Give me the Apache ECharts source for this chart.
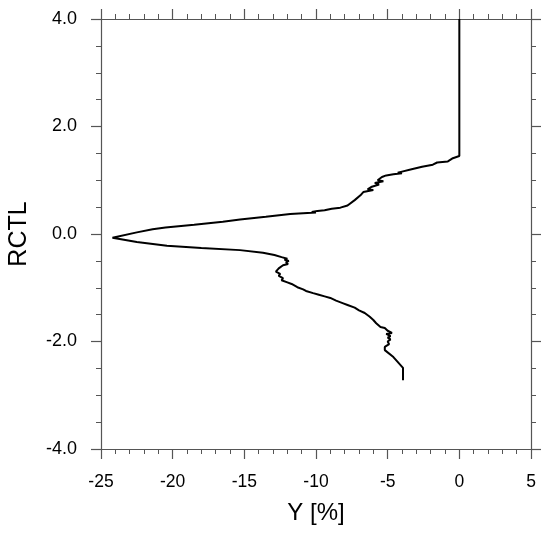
<!DOCTYPE html>
<html>
<head>
<meta charset="utf-8">
<script src="https://cdn.jsdelivr.net/npm/echarts@6/dist/echarts.min.js"></script>
<style>html,body{margin:0;padding:0;background:#fff}#c{width:550px;height:534px}</style>
</head>
<body>
<div id="c"></div>
<script>
// Y [%] values (x) and RCTL values (y), ordered from top to bottom of the profile
const yPercent = [0, 0, -0.45, -0.8, -1.55, -1.85, -2.6, -3.4, -4.0, -4.3, -4.0, -4.6, -5.1,
  -5.4, -5.7, -5.3, -5.9, -5.6, -6.1, -6.4, -6.0, -6.7, -6.9, -7.3, -7.8, -8.3, -8.9, -9.4,
  -9.9, -10.3, -10.0, -10.6, -11.8, -13.5, -15.3, -16.5, -18.5, -20.5, -21.4, -22.5, -24.2,
  -22.5, -20.4, -18.0, -15.3, -13.7, -12.9, -12.4, -12.0, -12.2, -11.9, -12.1, -11.95, -12.3,
  -12.6, -12.8, -12.5, -12.6, -12.3, -12.4, -12.0, -11.7, -11.3, -10.9, -10.7, -10.2, -9.8,
  -9.4, -9.0, -8.6, -8.1, -7.8, -7.3, -7.0, -6.6, -6.25, -6.0, -5.8, -5.5, -5.2, -5.0, -4.7,
  -5.1, -4.8, -5.0, -4.8, -5.0, -4.9, -5.2, -5.2, -4.6, -3.93, -3.93];
const rctl = [4.0, 1.45, 1.41, 1.35, 1.33, 1.29, 1.25, 1.2, 1.16, 1.14, 1.13, 1.11, 1.09,
  1.06, 1.0, 0.98, 0.95, 0.92, 0.88, 0.83, 0.82, 0.78, 0.72, 0.63, 0.53, 0.49, 0.47, 0.44,
  0.43, 0.41, 0.40, 0.39, 0.37, 0.32, 0.27, 0.23, 0.17, 0.12, 0.09, 0.03, -0.07,
  -0.15, -0.22, -0.26, -0.30, -0.35, -0.39, -0.43, -0.46, -0.48, -0.50, -0.53, -0.56, -0.58,
  -0.64, -0.70, -0.74, -0.78, -0.82, -0.86, -0.90, -0.93, -0.99, -1.03, -1.06, -1.10, -1.13,
  -1.16, -1.19, -1.24, -1.29, -1.32, -1.37, -1.42, -1.47, -1.54, -1.60, -1.66, -1.73, -1.75, -1.80, -1.84,
  -1.86, -1.90, -1.93, -1.96, -2.0, -2.05, -2.1, -2.16, -2.29, -2.49, -2.72];
const xTicks = [-25, -20, -15, -10, -5, 0, 5];
const yTicks = [-4.0, -2.0, 0.0, 2.0, 4.0];

const pts = yPercent.map((v, i) => [v, rctl[i]]);
const axColor = '#555';
const font = 'Liberation Sans, Arial, Helvetica, sans-serif';

function xAx(pos, show) {
  return {
    type: 'value', position: pos, min: xTicks[0], max: xTicks[xTicks.length - 1], interval: 5,
    axisLine: {show: true, onZero: false, lineStyle: {color: axColor, width: 1.2}},
    axisTick: {show: true, inside: false, length: 10, lineStyle: {color: axColor, width: 1.2}},
    minorTick: {show: true, splitNumber: 5, length: 5, lineStyle: {color: axColor, width: 1}},
    splitLine: {show: false},
    axisLabel: {show: show, margin: 24, color: '#000', fontSize: 17.5, fontFamily: font},
    name: show ? 'Y [%]' : '', nameLocation: 'middle', nameGap: 52,
    nameTextStyle: {color: '#000', fontSize: 24, fontFamily: font}
  };
}
function yAx(pos, show) {
  return {
    type: 'value', position: pos, min: yTicks[0], max: yTicks[yTicks.length - 1], interval: 2,
    axisLine: {show: true, onZero: false, lineStyle: {color: axColor, width: 1.2}},
    axisTick: {show: true, inside: false, length: 10, lineStyle: {color: axColor, width: 1.2}},
    minorTick: {show: true, splitNumber: 4, length: 5, lineStyle: {color: axColor, width: 1}},
    splitLine: {show: false},
    axisLabel: {show: show, margin: 24, color: '#000', fontSize: 18, fontFamily: font,
      formatter: v => v.toFixed(1)},
    name: show ? 'RCTL' : '', nameLocation: 'middle', nameGap: 69, nameRotate: 90,
    nameTextStyle: {color: '#000', fontSize: 25, fontFamily: font}
  };
}

const chart = echarts.init(document.getElementById('c'), null, {renderer: 'canvas'});
chart.setOption({
  animation: false,
  backgroundColor: '#fff',
  grid: {left: 101, right: 19, top: 19, bottom: 85, containLabel: false, outerBoundsMode: 'none'},
  xAxis: [xAx('bottom', true), xAx('top', false)],
  yAxis: [yAx('left', true), yAx('right', false)],
  series: [{
    type: 'line', data: pts, xAxisIndex: 0, yAxisIndex: 0,
    showSymbol: false, symbol: 'none', smooth: false,
    lineStyle: {color: '#000', width: 2}
  }]
});
</script>
</body>
</html>
